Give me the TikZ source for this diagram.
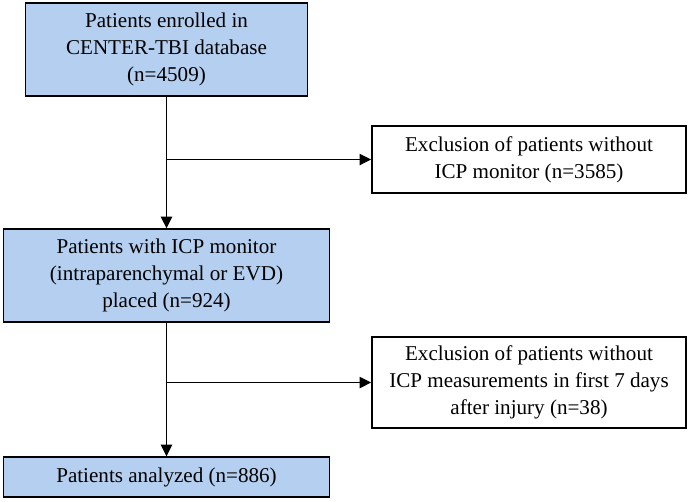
\documentclass[tikz,border=0pt]{standalone}
\usepackage{fontspec}
\setmainfont{Liberation Serif}
\usetikzlibrary{positioning,arrows.meta}

\definecolor{boxblue}{RGB}{180,207,239}

\begin{document}
\begin{tikzpicture}[ % one unit = one pixel of the flowchart
x=0.025cm, y=-0.025cm,
blue_box/.style={rectangle, draw=black, fill=boxblue, line width=1pt, inner sep=2pt, align=center, font=\fontsize{15}{19}\selectfont},
white_box/.style={rectangle, draw=black, fill=white, line width=1pt, inner sep=2pt, align=center, font=\fontsize{15}{19}\selectfont, minimum width=7.85cm},
out_arrow/.style={-{Triangle[length=2.9mm, width=2.8mm]}, line width=1pt},
plain_line/.style={line width=1pt}
]
\useasboundingbox (0,0) rectangle (688,501);

% main column
\node[blue_box, minimum width=7.05cm, minimum height=2.325cm](enrolled) at (166.5,49.5) {Patients enrolled in\\CENTER-TBI database\\(n=4509)};
\node[blue_box, minimum width=8.15cm, minimum height=2.325cm](with_icp) at (166.5,275.5) {Patients with ICP monitor\\(intraparenchymal or EVD)\\placed (n=924)};
\node[blue_box, minimum width=8.15cm, minimum height=1.0cm](analyzed) at (166.5,477) {Patients analyzed (n=886)};

% exclusions
\node[white_box, minimum height=1.675cm](excl_monitor) at (529,159.5) {Exclusion of patients without\\ICP monitor (n=3585)};
\node[white_box, minimum height=2.275cm](excl_measure) at (529,382.5) {Exclusion of patients without\\ICP measurements in first 7 days\\after injury (n=38)};

% branch points
\coordinate (split_a) at (166.5,159.5);
\coordinate (split_b) at (166.5,382.5);

\draw[out_arrow](enrolled) -- (with_icp);
\draw[out_arrow](with_icp) -- (analyzed);
\draw[out_arrow](split_a) -- (excl_monitor);
\draw[out_arrow](split_b) -- (excl_measure);

\end{tikzpicture}
\end{document}
